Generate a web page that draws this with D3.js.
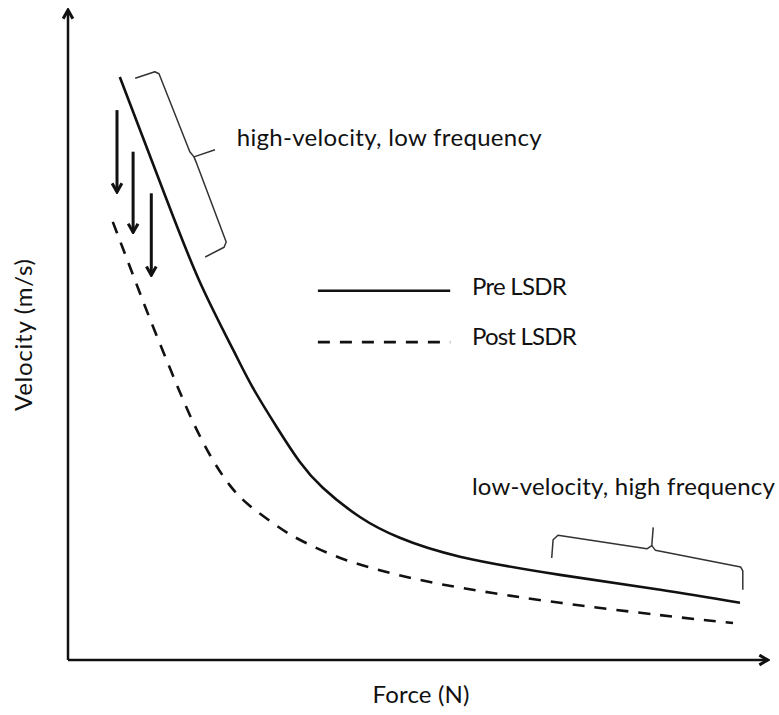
<!DOCTYPE html>
<html lang="en">

<head>
    <meta charset="UTF-8">
    <title>Force-velocity</title>
    <style>
        body {
            margin: 0;
            background: #fff;
        }

        .axis-line {
            stroke: #111;
            stroke-width: 2.5px;
        }

        .curve {
            fill: none;
            stroke: #111;
            stroke-width: 2.6px;
        }

        .curve-post {
            stroke-dasharray: 12, 10;
        }

        .bracket {
            fill: none;
            stroke: #333;
            stroke-width: 1.5px;
            stroke-linejoin: round;
        }

        .shift {
            stroke: #111;
            stroke-width: 3px;
        }

        .label {
            font-family: Lato, 'Open Sans', sans-serif;
            font-size: 24px;
            fill: #111;
        }
    </style>
</head>

<body>
    <script src="https://d3js.org/d3.v7.min.js"></script>
    <script>
        const width = 779;
        const height = 715;

        // force (x) vs velocity (y), arbitrary units 0-100
        const preForce = [7.4, 14.1, 18.9, 23.6, 26.4, 29.9, 33.1, 36.4, 41.7, 47.4, 56.0, 70.3, 84.6, 96.0];
        const preVelocity = [89.7, 70.8, 58.0, 47.7, 41.9, 35.7, 30.5, 26.5, 22.0, 18.8, 15.9, 13.1, 10.8, 8.8];
        const postForce = [6.4, 9.3, 11.7, 14.6, 17.4, 20.3, 23.1, 26.0, 29.9, 33.1, 38.9, 46.0, 53.1, 60.7, 70.3, 84.6, 95.0];
        const postVelocity = [67.4, 59.2, 52.5, 44.8, 37.7, 31.5, 26.9, 23.7, 20.6, 18.5, 15.7, 13.4, 11.7, 10.3, 8.8, 6.9, 5.7];

        // downward shift arrows: force, velocity from, velocity to
        const shiftForce = [7.0, 9.3, 11.9];
        const shiftFrom = [84.6, 78.2, 71.8];
        const shiftTo = [72.0, 65.8, 59.2];

        // curly brackets, each as two strokes
        const highBracket = [
            [[9.6, 89.5], [12.4, 90.5], [13.0, 90.2], [17.4, 78.2], [18.0, 77.4], [21.0, 78.5]],
            [[18.0, 77.4], [18.3, 76.6], [22.6, 64.3], [22.3, 63.5], [19.6, 62.0]]
        ];
        const lowBracket = [
            [[69.1, 15.7], [69.3, 18.5], [70.0, 19.2], [82.7, 17.1], [83.4, 17.6], [83.6, 20.4]],
            [[83.4, 17.6], [83.9, 16.9], [96.1, 14.3], [96.4, 13.7], [96.4, 10.8]]
        ];

        const labels = [
            { text: 'high-velocity, low frequency', f: 24.1, v: 79.1, len: 305 },
            { text: 'Pre LSDR', f: 57.7, v: 56.2, len: 95 },
            { text: 'Post LSDR', f: 57.7, v: 48.5, len: 105 },
            { text: 'low-velocity, high frequency', f: 57.7, v: 25.4, len: 303 }
        ];
        const legendForce = [35.7, 54.6];
        const legendVelocity = [56.8, 48.9];

        const xScale = d3.scaleLinear().domain([0, 100]).range([68, 768]);
        const yScale = d3.scaleLinear().domain([0, 100]).range([660, 10]);

        const svg = d3.select('body')
            .append('svg')
            .attr('width', width)
            .attr('height', height);

        const defs = svg.append('defs');
        defs.append('marker')
            .attr('id', 'head')
            .attr('viewBox', '0 0 12 12')
            .attr('refX', 10)
            .attr('refY', 6)
            .attr('markerWidth', 13)
            .attr('markerHeight', 13)
            .attr('markerUnits', 'userSpaceOnUse')
            .attr('orient', 'auto')
            .append('path')
            .attr('d', 'M2,1.5 L10,6 L2,10.5')
            .attr('fill', 'none')
            .attr('stroke', '#111')
            .attr('stroke-width', 2.8)
            .attr('stroke-linejoin', 'miter');

        // axes: plain lines with arrow heads, no ticks
        svg.append('line')
            .attr('class', 'axis-line')
            .attr('x1', xScale(0)).attr('y1', yScale(0))
            .attr('x2', xScale(0)).attr('y2', yScale(100))
            .attr('marker-end', 'url(#head)');
        svg.append('line')
            .attr('class', 'axis-line')
            .attr('x1', xScale(0)).attr('y1', yScale(0))
            .attr('x2', xScale(100)).attr('y2', yScale(0))
            .attr('marker-end', 'url(#head)');

        const line = d3.line()
            .x(d => xScale(d[0]))
            .y(d => yScale(d[1]))
            .curve(d3.curveNatural);

        svg.append('path')
            .datum(d3.zip(preForce, preVelocity))
            .attr('class', 'curve')
            .attr('d', line);

        svg.append('path')
            .datum(d3.zip(postForce, postVelocity))
            .attr('class', 'curve curve-post')
            .attr('d', line);

        const straight = d3.line()
            .x(d => xScale(d[0]))
            .y(d => yScale(d[1]));

        svg.selectAll('.bracket')
            .data(highBracket.concat(lowBracket))
            .enter().append('path')
            .attr('class', 'bracket')
            .attr('d', straight);

        svg.selectAll('.shift')
            .data(shiftForce)
            .enter().append('line')
            .attr('class', 'shift')
            .attr('x1', d => xScale(d))
            .attr('x2', d => xScale(d))
            .attr('y1', (d, i) => yScale(shiftFrom[i]))
            .attr('y2', (d, i) => yScale(shiftTo[i]))
            .attr('marker-end', 'url(#head)');

        // legend
        svg.append('line')
            .attr('class', 'curve')
            .attr('x1', xScale(legendForce[0])).attr('x2', xScale(legendForce[1]))
            .attr('y1', yScale(legendVelocity[0])).attr('y2', yScale(legendVelocity[0]));
        svg.append('line')
            .attr('class', 'curve curve-post')
            .attr('x1', xScale(legendForce[0])).attr('x2', xScale(legendForce[1]))
            .attr('y1', yScale(legendVelocity[1])).attr('y2', yScale(legendVelocity[1]));

        svg.selectAll('.note')
            .data(labels)
            .enter().append('text')
            .attr('class', 'label note')
            .attr('x', d => xScale(d.f))
            .attr('y', d => yScale(d.v))
            .attr('textLength', d => d.len)
            .text(d => d.text);

        svg.append('text')
            .attr('class', 'label')
            .attr('x', 421)
            .attr('y', 703)
            .attr('text-anchor', 'middle')
            .attr('textLength', 97)
            .text('Force (N)');

        svg.append('text')
            .attr('class', 'label')
            .attr('transform', 'translate(32, 335) rotate(-90)')
            .attr('text-anchor', 'middle')
            .attr('textLength', 152)
            .text('Velocity (m/s)');
    </script>
</body>

</html>
